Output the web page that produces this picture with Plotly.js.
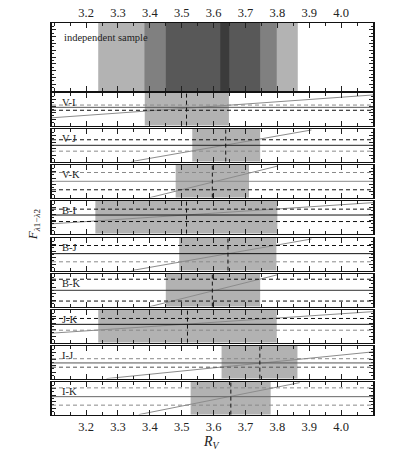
<!DOCTYPE html>
<html>
<head>
<meta charset="utf-8">
<script src="https://cdn.plot.ly/plotly-3.0.1.min.js"></script>
<style>html,body{margin:0;padding:0;background:#fff;}#chart{width:415px;height:461px;}</style>
</head>
<body>
<div id="chart"></div>
<script>
// ---- data ----
const xRange = [3.093, 4.1];
const xTickVals = [3.2, 3.3, 3.4, 3.5, 3.6, 3.7, 3.8, 3.9, 4.0];
const xTickText = ['3.2', '3.3', '3.4', '3.5', '3.6', '3.7', '3.8', '3.9', '4.0'];

// independent sample: nested credible intervals (outer -> inner)
const sampleLo = [3.238, 3.383, 3.450, 3.621];
const sampleHi = [3.864, 3.798, 3.746, 3.649];

// colour-pair panels
const panels   = ['V-I', 'V-J', 'V-K', 'B-I', 'B-J', 'B-K', 'J-K', 'I-J', 'I-K'];
const bandLo   = [3.384, 3.533, 3.481, 3.229, 3.492, 3.450, 3.238, 3.625, 3.528];
const bandHi   = [3.648, 3.746, 3.711, 3.800, 3.797, 3.746, 3.798, 3.863, 3.779];
const bestRv   = [3.515, 3.638, 3.596, 3.515, 3.645, 3.596, 3.518, 3.745, 3.654];
const fMean    = [0.56, 0.50, 0.50, 0.57, 0.52, 0.50, 0.56, 0.48, 0.55];
const fUpper   = [0.63, 0.67, 0.77, 0.75, 0.77, 0.84, 0.74, 0.61, 0.82];
const fLower   = [0.47, 0.32, 0.24, 0.37, 0.27, 0.17, 0.38, 0.35, 0.29];
// model relation F(R_V): two points on each line
const modelX0  = [3.093, 3.342, 3.400, 3.093, 3.342, 3.400, 3.093, 3.264, 3.365];
const modelY0  = [0.24, 0.00, 0.00, 0.30, 0.00, 0.00, 0.29, 0.00, 0.00];
const modelX1  = [4.100, 3.907, 3.802, 4.100, 3.907, 3.802, 4.100, 4.100, 3.870];
const modelY1  = [0.94, 0.97, 0.97, 0.95, 0.97, 0.98, 0.95, 0.82, 0.98];

// ---- styles ----
const FONT = 'Liberation Serif';
const sampleColors = ['#b3b3b3', '#808080', '#585858', '#3b3b3b'];
const bandColor = '#b2b2b2';
const BLK = '#111111', GRY = '#8a8a8a';
const upperCol = [GRY, BLK, GRY, BLK, BLK, BLK, BLK, GRY, GRY];
const lowerCol = [BLK, GRY, BLK, BLK, GRY, BLK, GRY, '#555555', GRY];
const meanCol  = ['#555555', '#222222', GRY, BLK, BLK, '#333333', BLK, '#555555', '#666666'];

// layout geometry (pixels in the 461px-high figure)
const PT = 23, PB = 415, PH = PB - PT;
const topPanel = [23, 91];
const firstTop = 93, period = 36.13, panelH = 32.6;
const toDom = (a, b) => [Math.max(0, (PB - b) / PH), Math.min(1, (PB - a) / PH)];
const domains = [toDom(topPanel[0], topPanel[1])];
for (let k = 0; k < 9; k++) {
  const t = Math.round(firstTop + k * period);
  domains.push(toDom(t, t + panelH));
}
const DASH = '4px,3px';

const layout = {
  width: 415, height: 461,
  margin: {l: 52, r: 42, t: PT, b: 461 - PB},
  paper_bgcolor: '#fff', plot_bgcolor: '#fff',
  showlegend: false,
  font: {family: FONT, size: 12, color: '#222'},
  shapes: [], annotations: []
};
const traces = [];

function ref(i, a) { return a + (i === 0 ? '' : (i + 1)); }

for (let i = 0; i < 10; i++) {
  const xa = {
    domain: [0, 1], anchor: ref(i, 'y'), range: xRange,
    showgrid: false, zeroline: false,
    showline: true, linewidth: 1.5, linecolor: '#111', mirror: 'allticks',
    ticks: 'inside', ticklen: 5, tickwidth: 1, tickcolor: '#222',
    tickvals: xTickVals, ticktext: xTickText,
    minor: {ticks: 'inside', ticklen: 3, tickwidth: 1, tickcolor: '#222', dtick: 0.05, tick0: 3.2},
    showticklabels: (i === 0 || i === 9),
    tickfont: {family: FONT, size: 12.5, color: '#222'},
    fixedrange: true
  };
  if (i === 0) xa.side = 'top';
  if (i > 0) xa.matches = 'x';
  layout[ref(i, 'xaxis')] = xa;
  layout[ref(i, 'yaxis')] = {
    domain: domains[i], anchor: ref(i, 'x'), range: [0, 1],
    showgrid: false, zeroline: false,
    showline: true, linewidth: 2, linecolor: '#111', mirror: 'allticks',
    ticks: 'inside', ticklen: 4, tickwidth: 1, tickcolor: '#222',
    dtick: i === 0 ? 0.1 : 0.2, tick0: 0,
    minor: {ticks: 'inside', ticklen: 2, tickwidth: 1, tickcolor: '#222', dtick: i === 0 ? 0.05 : 0.1},
    showticklabels: false, fixedrange: true
  };
}

// independent sample panel
for (let k = 0; k < sampleLo.length; k++) {
  layout.shapes.push({
    type: 'rect', layer: 'below', xref: 'x', yref: 'y domain',
    x0: sampleLo[k], x1: sampleHi[k], y0: 0, y1: 1,
    fillcolor: sampleColors[k], line: {width: 0}
  });
}
layout.annotations.push({
  xref: 'x domain', yref: 'y domain', x: 0.03, y: 0.78,
  xanchor: 'left', yanchor: 'middle', showarrow: false,
  text: 'independent sample', font: {family: FONT, size: 10.5, color: '#222'}
});

// colour panels
panels.forEach((name, j) => {
  const i = j + 1;
  const xr = ref(i, 'x'), yr = ref(i, 'y');
  layout.shapes.push({
    type: 'rect', layer: 'below', xref: xr, yref: yr + ' domain',
    x0: bandLo[j], x1: bandHi[j], y0: 0, y1: 1,
    fillcolor: bandColor, line: {width: 0}
  });
  const hline = (y, col, dash) => ({
    type: 'line', layer: 'above', xref: xr + ' domain', yref: yr,
    x0: 0, x1: 1, y0: y, y1: y, line: {color: col, width: 1, dash: dash}
  });
  layout.shapes.push(hline(fUpper[j], upperCol[j], DASH));
  layout.shapes.push(hline(fLower[j], lowerCol[j], DASH));
  layout.shapes.push(hline(fMean[j], meanCol[j], 'solid'));
  layout.shapes.push({
    type: 'line', layer: 'above', xref: xr, yref: yr + ' domain',
    x0: bestRv[j], x1: bestRv[j], y0: 0, y1: 1,
    line: {color: '#111', width: 1, dash: DASH}
  });
  traces.push({
    type: 'scatter', mode: 'lines', xaxis: xr, yaxis: yr,
    x: [modelX0[j], modelX1[j]], y: [modelY0[j], modelY1[j]],
    line: {color: '#8c8c8c', width: 1}, hoverinfo: 'skip'
  });
  layout.annotations.push({
    xref: xr + ' domain', yref: yr + ' domain', x: 0.025, y: 0.72,
    xanchor: 'left', yanchor: 'middle', showarrow: false,
    text: name, font: {family: FONT, size: 10.5, color: '#222'}
  });
});

// axis titles
layout.annotations.push({
  xref: 'paper', yref: 'paper', x: -0.059, y: 0.487,
  xanchor: 'center', yanchor: 'middle', showarrow: false, textangle: -90,
  text: '<i>F</i><sub><i>λ</i>1−<i>λ</i>2</sub>', font: {family: FONT, size: 13, color: '#222'}
});
layout.annotations.push({
  xref: 'paper', yref: 'paper', x: 0.498, y: -0.07,
  xanchor: 'center', yanchor: 'middle', showarrow: false,
  text: '<i>R<sub>V</sub></i>', font: {family: FONT, size: 14, color: '#222'}
});

// an empty trace on the top panel so its axes render
traces.unshift({type: 'scatter', mode: 'lines', x: [], y: [], xaxis: 'x', yaxis: 'y', hoverinfo: 'skip'});

Plotly.newPlot('chart', traces, layout, {displayModeBar: false, staticPlot: true});
</script>
</body>
</html>
